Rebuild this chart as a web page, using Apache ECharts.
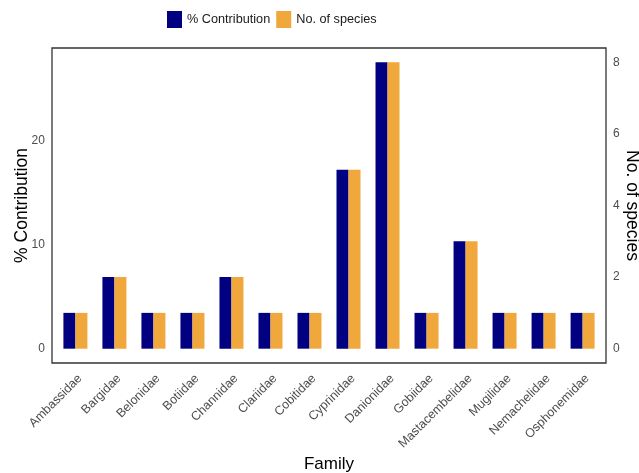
<!DOCTYPE html>
<html>
<head>
<meta charset="utf-8">
<script src="https://cdn.jsdelivr.net/npm/echarts@6/dist/echarts.min.js"></script>
<style>
  html, body { margin: 0; padding: 0; background: #fff; }
  #chart { width: 639px; height: 473px; }
</style>
</head>
<body>
<div id="chart"></div>
<script>
// Fish families and their share of recorded species
const families = ['Ambassidae', 'Bargidae', 'Belonidae', 'Botiidae', 'Channidae', 'Clariidae', 'Cobitidae',
  'Cyprinidae', 'Danionidae', 'Gobiidae', 'Mastacembelidae', 'Mugilidae', 'Nemachelidae', 'Osphonemidae'];
const contribution = [3.45, 6.90, 3.45, 3.45, 6.90, 3.45, 3.45, 17.24, 27.59, 3.45, 10.34, 3.45, 3.45, 3.45];
const species = [1, 2, 1, 1, 2, 1, 1, 5, 8, 1, 3, 1, 1, 1];
const contributionTicks = [0, 10, 20];
const speciesTicks = [0, 2, 4, 6, 8];

// panel frame and the inner data area (discrete axis padded 0.6 of a step on each side)
const frame = { left: 52, top: 48, right: 606, bottom: 363 };
const n = families.length;
const band = (frame.right - frame.left) / (n + 0.2);
const pad = 0.6 * band - band / 2;

const maxPct = Math.max(...contribution);
const maxSp = Math.max(...species);

const chart = echarts.init(document.getElementById('chart'));
const labelColor = '#4D4D4D';
const font = 'Liberation Sans, Arial, sans-serif';

chart.setOption({
  animation: false,
  textStyle: { fontFamily: font },
  legend: {
    left: 167, top: 11, padding: 0,
    icon: 'rect', itemWidth: 15, itemHeight: 17, itemGap: 6,
    textStyle: { fontSize: 12.7, color: '#1a1a1a', fontFamily: font },
    data: ['% Contribution', 'No. of species']
  },
  graphic: [{
    type: 'rect',
    shape: { x: frame.left, y: frame.top, width: frame.right - frame.left, height: frame.bottom - frame.top },
    style: { fill: 'none', stroke: '#333', lineWidth: 1.3 },
    z: 10
  }],
  grid: {
    left: frame.left + pad,
    right: 639 - frame.right + pad,
    top: frame.top,
    bottom: 473 - frame.bottom,
    outerBoundsMode: 'none',
    containLabel: false
  },
  xAxis: {
    type: 'category',
    data: families,
    name: 'Family',
    nameLocation: 'middle',
    nameGap: 93,
    nameMoveOverlap: false,
    nameTextStyle: { fontSize: 17, color: '#000', fontFamily: font },
    axisLine: { show: false },
    axisTick: { show: false },
    axisLabel: {
      rotate: 45, interval: 0, margin: 9, align: 'right', verticalAlign: 'top',
      fontSize: 12.5, color: labelColor, fontFamily: font
    }
  },
  yAxis: [{
    type: 'value',
    min: -0.05 * maxPct, max: 1.05 * maxPct,
    name: '% Contribution',
    nameLocation: 'middle',
    nameGap: 25,
    nameMoveOverlap: false,
    nameTextStyle: { fontSize: 17.5, color: '#000', fontFamily: font },
    axisLine: { show: false },
    axisTick: { show: false },
    splitLine: { show: false },
    axisLabel: { customValues: contributionTicks, margin: 11, fontSize: 12, color: labelColor, fontFamily: font }
  }, {
    type: 'value',
    position: 'right',
    min: -0.05 * maxSp, max: 1.05 * maxSp,
    name: 'No. of species',
    nameLocation: 'middle',
    nameRotate: -90,
    nameGap: 21,
    nameMoveOverlap: false,
    nameTextStyle: { fontSize: 17.5, color: '#000', fontFamily: font },
    axisLine: { show: false },
    axisTick: { show: false },
    splitLine: { show: false },
    axisLabel: { customValues: speciesTicks, margin: 11, fontSize: 12, color: labelColor, fontFamily: font }
  }],
  series: [{
    name: '% Contribution',
    type: 'bar',
    yAxisIndex: 0,
    data: contribution,
    barWidth: 12,
    barGap: '0%',
    itemStyle: { color: '#000080' }
  }, {
    name: 'No. of species',
    type: 'bar',
    yAxisIndex: 1,
    data: species,
    barWidth: 12,
    barGap: '0%',
    itemStyle: { color: '#F0A83C' }
  }]
});
</script>
</body>
</html>
